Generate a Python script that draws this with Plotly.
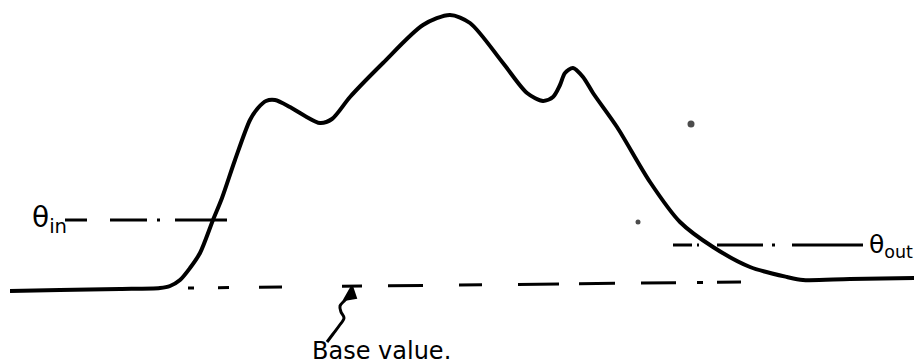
"""
Hand-drawn style sketch: response curve with theta_in / theta_out / base value levels.
"""
import plotly.graph_objects as go

# main curve (page coordinates, y grows downward)
curve_x = [10, 60, 120, 160, 170, 180, 190, 200, 213, 222, 235, 250, 258, 266, 275, 290, 305,
           320, 332, 350, 383, 423, 450, 470, 503, 527, 543, 553, 560, 565, 573, 583, 593,
           617, 650, 680, 713, 750, 787, 803, 850, 922]
curve_y = [291, 290, 289, 288, 286, 280, 268, 253, 220, 198, 160, 120, 108, 101, 100, 107, 116,
           123, 119, 97, 63, 25, 15, 23, 63, 93, 101, 97, 85, 73, 68, 77, 93,
           127, 182, 222, 247, 267, 277, 280, 279, 278]

# reference levels
theta_in_y = 220
theta_in_segs = [(65, 87), (110, 147), (157, 160), (175, 227)]
theta_out_y = 245
theta_out_segs = [(673, 692), (697, 699), (717, 763), (772, 775), (792, 863)]
base_y_left, base_y_right = 288, 282
base_segs = [(188, 194), (218, 229), (259, 282), (342, 362), (388, 423), (459, 482),
             (518, 559), (579, 615), (641, 676), (697, 703), (717, 741)]

# squiggly arrow pointing at the base line
arrow_x = [327, 333, 339, 344, 341, 340, 345, 350]
arrow_y = [342, 334, 326, 318, 312, 306, 300, 294]
head_x = [344, 356, 352, 344]
head_y = [300, 298, 286, 300]

# stray scanner dots
dots_x = [691, 638]
dots_y = [124, 222]

# the page body has an 8px margin, so the figure starts at (8, 8)
OFFSET = 8
W, H = 922, 364


def seg_trace(segs, y0, y1=None, width=3):
    if y1 is None:
        y1 = y0
    x0_all, x1_all = segs[0][0], segs[-1][1]
    xs, ys = [], []
    for a, b in segs:
        for v in (a, b):
            xs.append(v)
            ys.append(y0 + (y1 - y0) * (v - x0_all) / (x1_all - x0_all))
        xs.append(None)
        ys.append(None)
    return go.Scatter(x=xs, y=ys, mode="lines", line=dict(color="black", width=width),
                      hoverinfo="skip")


fig = go.Figure()
fig.add_trace(go.Scatter(x=curve_x, y=curve_y, mode="lines",
                         line=dict(color="black", width=4, shape="spline", smoothing=0.8)))
fig.add_trace(seg_trace(theta_in_segs, theta_in_y))
fig.add_trace(seg_trace(theta_out_segs, theta_out_y))
fig.add_trace(seg_trace(base_segs, base_y_left, base_y_right))
fig.add_trace(go.Scatter(x=arrow_x, y=arrow_y, mode="lines",
                         line=dict(color="black", width=3, shape="spline")))
fig.add_trace(go.Scatter(x=head_x, y=head_y, mode="lines", fill="toself",
                         fillcolor="black", line=dict(color="black", width=2)))
fig.add_trace(go.Scatter(x=dots_x, y=dots_y, mode="markers",
                         marker=dict(color="black", size=[7, 5], line=dict(width=0))))

font = dict(family="DejaVu Sans", color="black")
fig.add_annotation(x=30, y=219, text="θ<sub>in</sub>", showarrow=False,
                   xanchor="left", yanchor="middle", font=dict(size=28, **font))
fig.add_annotation(x=867, y=246, text="θ<sub>out</sub>", showarrow=False,
                   xanchor="left", yanchor="middle", font=dict(size=25, **font))
fig.add_annotation(x=310, y=351, text="Base value.", showarrow=False,
                   xanchor="left", yanchor="middle", font=dict(size=24, **font))

fig.update_layout(
    width=W - OFFSET,
    height=H - OFFSET,
    margin=dict(l=0, r=0, t=0, b=0),
    showlegend=False,
    plot_bgcolor="white",
    paper_bgcolor="white",
    xaxis=dict(range=[OFFSET, W], visible=False),
    yaxis=dict(range=[H, OFFSET], visible=False),
)
fig.write_html("out.html")
